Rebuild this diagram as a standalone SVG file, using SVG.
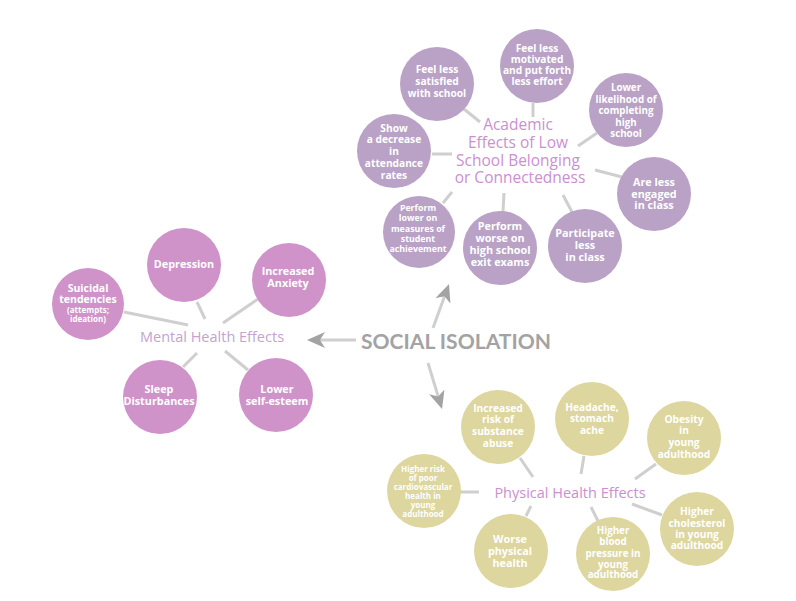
<svg xmlns="http://www.w3.org/2000/svg" width="796" height="601" viewBox="0 0 796 601">
<style>
  .ac { fill: #b9a2c6; }
  .mc { fill: #cf93ca; }
  .pc { fill: #ddd69e; }
  .t { font-family: "Open Sans", Lato, "Liberation Sans", sans-serif; font-weight: bold; fill: #ffffff; text-anchor: middle; font-size: 10.2px; }
  .s { font-size: 8.8px; }
  .xs { font-size: 8px; }
  .title { font-family: "Open Sans", Lato, "Liberation Sans", sans-serif; text-anchor: middle; fill: #cc8fd0; }
  .conn line { stroke: #cfcfcf; stroke-width: 3; }
  .arrow { stroke: #a3a3a3; stroke-width: 4; fill: none; marker-end: url(#ah); }
</style>
<defs>
  <marker id="ah" markerUnits="userSpaceOnUse" viewBox="0 -8 18 16" refX="10" refY="0" markerWidth="18" markerHeight="16" orient="auto">
    <path d="M0,-8 L18,0 L0,8 L5,0 Z" fill="#a3a3a3"/>
  </marker>
</defs>
<rect width="796" height="601" fill="#ffffff"/>

<g id="connectors" class="conn">
  <!-- academic -->
  <line x1="464" y1="109" x2="480" y2="122"/>
  <line x1="533" y1="103" x2="533" y2="117"/>
  <line x1="597" y1="133" x2="578" y2="146"/>
  <line x1="432" y1="154" x2="452" y2="154"/>
  <line x1="595" y1="170" x2="622" y2="177"/>
  <line x1="452" y1="192" x2="443" y2="203"/>
  <line x1="504" y1="193" x2="503" y2="212"/>
  <line x1="563" y1="195" x2="572" y2="212"/>
  <!-- mental -->
  <line x1="197" y1="302" x2="205" y2="319"/>
  <line x1="258" y1="299" x2="223" y2="323"/>
  <line x1="124" y1="312" x2="188" y2="325"/>
  <line x1="183" y1="367" x2="197" y2="353"/>
  <line x1="225" y1="351" x2="248" y2="370"/>
  <!-- physical -->
  <line x1="520" y1="458" x2="533" y2="477"/>
  <line x1="584" y1="456" x2="581" y2="474"/>
  <line x1="656" y1="464" x2="635" y2="479"/>
  <line x1="662" y1="515" x2="632" y2="504"/>
  <line x1="598" y1="521" x2="591" y2="507"/>
  <line x1="526" y1="516" x2="531" y2="506"/>
  <line x1="460" y1="492" x2="479" y2="492"/>
  <!-- arrows -->
  <line class="arrow" x1="356" y1="340" x2="315" y2="340"/>
  <line class="arrow" x1="433" y1="328" x2="446.3" y2="291.5"/>
  <line class="arrow" x1="428" y1="363" x2="439.7" y2="401.4"/>
</g>

<g id="social-isolation">
  <text x="456" y="349" font-family="Lato, 'Open Sans', 'Liberation Sans', sans-serif" font-weight="bold" font-size="20" fill="#a3a3a3" text-anchor="middle" textLength="190" lengthAdjust="spacingAndGlyphs">SOCIAL ISOLATION</text>
</g>

<!-- Academic -->
<g id="academic-title">
  <text class="title" font-size="15.5">
    <tspan x="520" y="130">Academic</tspan>
    <tspan x="520" y="148">Effects of Low</tspan>
    <tspan x="520" y="166">School Belonging</tspan>
    <tspan x="520" y="183">or Connectedness</tspan>
  </text>
</g>
<g id="ac-satisfied">
  <circle class="ac" cx="437" cy="84" r="37"/>
  <text class="t"><tspan x="437" y="73">Feel less</tspan><tspan x="437" y="85">satisfied</tspan><tspan x="437" y="97">with school</tspan></text>
</g>
<g id="ac-motivated">
  <circle class="ac" cx="537" cy="66" r="37"/>
  <text class="t"><tspan x="537" y="52">Feel less</tspan><tspan x="537" y="63">motivated</tspan><tspan x="537" y="74">and put forth</tspan><tspan x="537" y="85">less effort</tspan></text>
</g>
<g id="ac-completing">
  <circle class="ac" cx="626" cy="110" r="37"/>
  <text class="t" style="font-size:9.8px"><tspan x="626" y="91">Lower</tspan><tspan x="626" y="103">likelihood of</tspan><tspan x="626" y="114">completing</tspan><tspan x="626" y="126">high</tspan><tspan x="626" y="137">school</tspan></text>
</g>
<g id="ac-engaged">
  <circle class="ac" cx="654" cy="194" r="37"/>
  <text class="t" style="font-size:10.8px"><tspan x="654" y="186">Are less</tspan><tspan x="654" y="198">engaged</tspan><tspan x="654" y="209">in class</tspan></text>
</g>
<g id="ac-participate">
  <circle class="ac" cx="585" cy="246" r="37"/>
  <text class="t" style="font-size:10.8px"><tspan x="585" y="237">Participate</tspan><tspan x="585" y="249">less</tspan><tspan x="585" y="261">in class</tspan></text>
</g>
<g id="ac-exit-exams">
  <circle class="ac" cx="500" cy="248" r="37"/>
  <text class="t" style="font-size:10.8px"><tspan x="500" y="230">Perform</tspan><tspan x="500" y="242">worse on</tspan><tspan x="500" y="254">high school</tspan><tspan x="500" y="266">exit exams</tspan></text>
</g>
<g id="ac-achievement">
  <circle class="ac" cx="419" cy="232" r="36"/>
  <text class="t s"><tspan x="418" y="211">Perform</tspan><tspan x="418" y="221">lower on</tspan><tspan x="418" y="232">measures of</tspan><tspan x="418" y="242">student</tspan><tspan x="418" y="252">achievement</tspan></text>
</g>
<g id="ac-attendance">
  <circle class="ac" cx="394" cy="151" r="37"/>
  <text class="t"><tspan x="394" y="132">Show</tspan><tspan x="394" y="143">a decrease</tspan><tspan x="394" y="155">in</tspan><tspan x="394" y="167">attendance</tspan><tspan x="394" y="179">rates</tspan></text>
</g>

<!-- Mental -->
<g id="mental-title">
  <text class="title" font-size="14.5" style="fill:#c4a3cf" x="212" y="342">Mental Health Effects</text>
</g>
<g id="mh-depression">
  <circle class="mc" cx="184" cy="265" r="37"/>
  <text class="t" style="font-size:10.8px" x="184" y="268">Depression</text>
</g>
<g id="mh-anxiety">
  <circle class="mc" cx="289" cy="280" r="37"/>
  <text class="t" style="font-size:10.8px"><tspan x="288" y="275">Increased</tspan><tspan x="288" y="287">Anxiety</tspan></text>
</g>
<g id="mh-suicidal">
  <circle class="mc" cx="88" cy="304" r="36"/>
  <text class="t" style="font-size:10.5px"><tspan x="88" y="292">Suicidal</tspan><tspan x="88" y="303">tendencies</tspan><tspan class="xs" x="88" y="313">(attempts;</tspan><tspan class="xs" x="88" y="322">ideation)</tspan></text>
</g>
<g id="mh-sleep">
  <circle class="mc" cx="160" cy="397" r="37"/>
  <text class="t" style="font-size:10.8px"><tspan x="159" y="393">Sleep</tspan><tspan x="159" y="405">Disturbances</tspan></text>
</g>
<g id="mh-selfesteem">
  <circle class="mc" cx="276" cy="395" r="37"/>
  <text class="t" style="font-size:10.8px"><tspan x="277" y="393">Lower</tspan><tspan x="277" y="405">self-esteem</tspan></text>
</g>

<!-- Physical -->
<g id="physical-title">
  <text class="title" font-size="14.5" x="570" y="498">Physical Health Effects</text>
</g>
<g id="ph-substance">
  <circle class="pc" cx="498" cy="427" r="37"/>
  <text class="t"><tspan x="498" y="412">Increased</tspan><tspan x="498" y="423">risk of</tspan><tspan x="498" y="435">substance</tspan><tspan x="498" y="447">abuse</tspan></text>
</g>
<g id="ph-headache">
  <circle class="pc" cx="592" cy="419" r="37"/>
  <text class="t"><tspan x="592" y="411">Headache,</tspan><tspan x="592" y="422">stomach</tspan><tspan x="592" y="434">ache</tspan></text>
</g>
<g id="ph-obesity">
  <circle class="pc" cx="684" cy="438" r="37"/>
  <text class="t"><tspan x="684" y="423">Obesity</tspan><tspan x="684" y="434">in</tspan><tspan x="684" y="446">young</tspan><tspan x="684" y="458">adulthood</tspan></text>
</g>
<g id="ph-cholesterol">
  <circle class="pc" cx="697" cy="529" r="37"/>
  <text class="t"><tspan x="697" y="515">Higher</tspan><tspan x="697" y="527">cholesterol</tspan><tspan x="697" y="538">in young</tspan><tspan x="697" y="549">adulthood</tspan></text>
</g>
<g id="ph-bloodpressure">
  <circle class="pc" cx="613" cy="554" r="37"/>
  <text class="t" style="font-size:9.8px"><tspan x="613" y="534">Higher</tspan><tspan x="613" y="545">blood</tspan><tspan x="613" y="557">pressure in</tspan><tspan x="613" y="568">young</tspan><tspan x="613" y="578">adulthood</tspan></text>
</g>
<g id="ph-worse">
  <circle class="pc" cx="511" cy="551" r="37"/>
  <text class="t" style="font-size:10.8px"><tspan x="510" y="543">Worse</tspan><tspan x="510" y="555">physical</tspan><tspan x="510" y="567">health</tspan></text>
</g>
<g id="ph-cardio">
  <circle class="pc" cx="424" cy="491" r="37"/>
  <text class="t xs"><tspan x="423" y="472">Higher risk</tspan><tspan x="423" y="481">of poor</tspan><tspan x="423" y="490">cardiovascular</tspan><tspan x="423" y="499">health in</tspan><tspan x="423" y="508">young</tspan><tspan x="423" y="517">adulthood</tspan></text>
</g>
</svg>
